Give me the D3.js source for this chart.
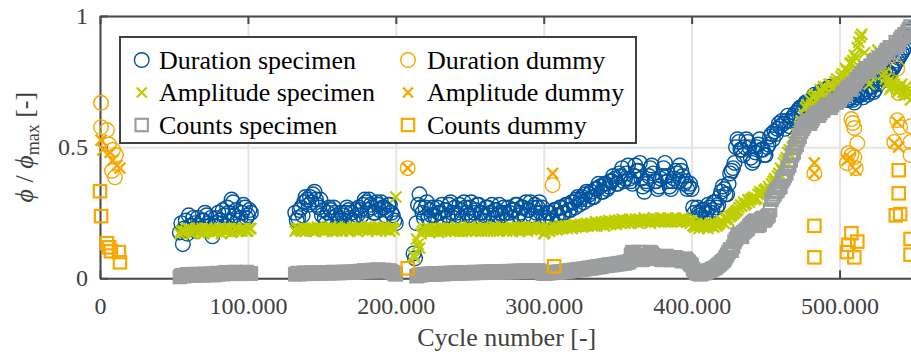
<!DOCTYPE html>
<html>
<head>
<meta charset="utf-8">
<title>phi / phi max</title>
<script src="https://cdn.jsdelivr.net/npm/d3@7"></script>
<style>
  body { margin: 0; background: #fff; }
  svg { display: block; font-family: "Liberation Serif", "Times New Roman", serif; }
  .grid line { stroke: #e4e4e4; stroke-width: 2px; }
  .grid path { display: none; }
  .axis path, .axis line { stroke: #4a4a4a; stroke-width: 2px; }
  .axis text { fill: #404040; font-size: 24px; font-family: "Liberation Serif", serif; }
</style>
</head>
<body>
<svg id="chart" width="911" height="356"></svg>
<script>
// cycle numbers in thousands (specimen measurements)
var cycles = [
  54,55,56,57,58,59,60,61,62,63,
  64,65,66,67,68,69,70,71,72,73,
  74,75,76,77,78,79,80,81,82,83,
  84,85,86,87,88,89,90,91,92,93,
  94,95,96,97,98,99,100,101,102,
  132,133,134,135,136,137,138,139,140,141,
  142,143,144,145,146,147,148,149,150,151,
  152,153,154,155,156,157,158,159,160,161,
  162,163,164,165,166,167,168,169,170,171,
  172,173,174,175,176,177,178,179,180,181,
  182,183,184,185,186,187,188,189,190,191,
  192,193,194,195,196,197,198,199,200,
  212,213,214,215,
  216,217,218,219,220,221,222,223,224,225,
  226,227,228,229,230,231,232,233,234,235,
  236,237,238,239,240,241,242,243,244,245,
  246,247,248,249,250,251,252,253,254,255,
  256,257,258,259,260,261,262,263,264,265,
  266,267,268,269,270,271,272,273,274,275,
  276,277,278,279,280,281,282,283,284,285,
  286,287,288,289,290,291,292,293,294,295,
  296,297,298,299,300,301,302,303,304,305,
  306,307,308,309,310,311,312,313,314,315,
  316,317,318,319,320,321,322,323,324,325,
  326,327,328,329,330,331,332,333,334,335,
  336,337,338,339,340,341,342,343,344,345,
  346,347,348,349,350,351,352,353,354,355,
  356,357,358,359,360,361,362,363,364,365,
  366,367,368,369,370,371,372,373,374,375,
  376,377,378,379,380,381,382,383,384,385,
  386,387,388,389,390,391,392,393,394,395,
  396,397,398,399,400,401,402,403,404,405,
  406,407,408,409,410,411,412,413,414,415,
  416,417,418,419,420,421,422,423,424,425,
  426,427,428,429,430,431,432,433,434,435,
  436,437,438,439,440,441,442,443,444,445,
  446,447,448,449,450,451,452,453,454,455,
  456,457,458,459,460,461,462,463,464,465,
  466,467,468,469,470,471,472,473,474,475,
  476,477,478,479,480,481,482,483,484,485,
  486,487,488,489,490,491,492,493,494,495,
  496,497,498,499,500,501,502,503,504,505,
  506,507,508,509,510,511,512,513,514,515,
  516,517,518,519,520,521,522,523,524,525,
  526,527,528,529,530,531,532,533,534,535,
  536,537,538,539,540,541,542,543,544,545,
  546,547,548
];

var duration = [
  0.175,0.21,0.13,0.19,0.22,0.17,0.24,0.2,0.2,0.23,
  0.21,0.18,0.23,0.2,0.19,0.22,0.22,0.25,0.24,0.21,
  0.2,0.23,0.16,0.2,0.23,0.21,0.25,0.22,0.21,0.26,
  0.24,0.2,0.27,0.25,0.22,0.3,0.29,0.24,0.26,0.22,
  0.2,0.23,0.25,0.28,0.27,0.23,0.24,0.26,0.25,
  0.25,0.22,0.23,0.26,0.27,0.24,0.29,0.31,0.3,0.28,
  0.31,0.29,0.32,0.33,0.3,0.28,0.27,0.3,0.24,0.26,
  0.23,0.21,0.25,0.27,0.26,0.23,0.27,0.25,0.24,0.21,
  0.22,0.25,0.24,0.22,0.25,0.27,0.26,0.23,0.25,0.22,
  0.23,0.26,0.24,0.27,0.26,0.24,0.28,0.3,0.29,0.26,
  0.3,0.28,0.27,0.25,0.25,0.29,0.28,0.26,0.29,0.27,
  0.27,0.24,0.26,0.28,0.28,0.25,0.24,0.22,0.21,
  0.095,0.076,0.21,0.28,
  0.32,0.27,0.25,0.23,0.27,0.29,0.23,0.26,0.24,0.27,
  0.24,0.22,0.27,0.25,0.25,0.28,0.23,0.26,0.26,0.24,
  0.28,0.29,0.25,0.23,0.27,0.25,0.24,0.28,0.26,0.23,
  0.29,0.27,0.25,0.24,0.27,0.29,0.23,0.25,0.26,0.28,
  0.28,0.25,0.25,0.22,0.24,0.27,0.27,0.24,0.25,0.28,
  0.23,0.26,0.26,0.24,0.28,0.25,0.24,0.27,0.25,0.22,
  0.27,0.25,0.23,0.26,0.26,0.28,0.28,0.24,0.25,0.27,
  0.27,0.24,0.29,0.26,0.26,0.29,0.24,0.27,0.28,0.25,
  0.27,0.29,0.25,0.27,0.23,0.22,0.23,0.25,0.25,0.22,
  0.22,0.26,0.26,0.24,0.24,0.27,0.27,0.25,0.25,0.28,
  0.28,0.26,0.26,0.29,0.29,0.27,0.3,0.31,0.28,0.3,
  0.31,0.29,0.32,0.33,0.3,0.32,0.33,0.31,0.31,0.34,
  0.34,0.36,0.35,0.33,0.33,0.36,0.36,0.34,0.35,0.37,
  0.37,0.39,0.38,0.36,0.36,0.4,0.39,0.42,0.37,0.38,
  0.4,0.43,0.38,0.37,0.36,0.39,0.43,0.41,0.41,0.44,
  0.38,0.35,0.33,0.37,0.36,0.39,0.42,0.43,0.4,0.37,
  0.37,0.34,0.35,0.38,0.39,0.42,0.44,0.39,0.37,0.35,
  0.34,0.37,0.38,0.41,0.4,0.37,0.43,0.41,0.39,0.36,
  0.37,0.34,0.35,0.36,0.34,0.27,0.25,0.23,0.27,0.25,
  0.24,0.26,0.26,0.23,0.25,0.28,0.27,0.25,0.26,0.29,
  0.29,0.27,0.28,0.31,0.33,0.35,0.34,0.32,0.32,0.36,
  0.4,0.41,0.42,0.44,0.5,0.53,0.52,0.49,0.49,0.47,
  0.5,0.53,0.52,0.5,0.46,0.44,0.45,0.48,0.5,0.51,
  0.53,0.49,0.49,0.47,0.47,0.5,0.51,0.54,0.55,0.53,
  0.56,0.55,0.57,0.59,0.58,0.6,0.59,0.57,0.6,0.62,
  0.58,0.6,0.61,0.62,0.63,0.61,0.64,0.65,0.65,0.64,
  0.66,0.67,0.67,0.65,0.66,0.68,0.68,0.7,0.69,0.68,
  0.7,0.71,0.69,0.7,0.7,0.72,0.71,0.73,0.72,0.7,
  0.72,0.73,0.73,0.74,0.71,0.7,0.69,0.71,0.7,0.68,
  0.68,0.7,0.69,0.68,0.67,0.69,0.7,0.72,0.71,0.7,
  0.69,0.71,0.72,0.7,0.71,0.73,0.73,0.71,0.72,0.74,
  0.74,0.76,0.75,0.77,0.77,0.79,0.76,0.78,0.78,0.8,
  0.8,0.81,0.82,0.83,0.84,0.85,0.86,0.87,0.88,0.9,
  0.92,0.94,0.95
];

var amplitude = [
  0.17,0.18,0.18,0.175,0.18,0.19,0.19,0.18,0.17,0.185,
  0.18,0.19,0.19,0.175,0.18,0.19,0.17,0.185,0.19,0.18,
  0.18,0.19,0.18,0.175,0.19,0.18,0.18,0.19,0.17,0.185,
  0.19,0.18,0.18,0.19,0.19,0.175,0.18,0.19,0.19,0.18,
  0.18,0.185,0.18,0.19,0.19,0.18,0.18,0.19,0.19,
  0.18,0.19,0.19,0.185,0.18,0.19,0.19,0.18,0.185,0.19,
  0.185,0.19,0.18,0.19,0.18,0.195,0.185,0.19,0.19,0.18,
  0.18,0.19,0.19,0.185,0.195,0.18,0.19,0.185,0.18,0.19,
  0.19,0.185,0.18,0.19,0.195,0.185,0.19,0.18,0.185,0.19,
  0.19,0.185,0.18,0.19,0.195,0.19,0.185,0.19,0.195,0.18,
  0.19,0.195,0.185,0.19,0.19,0.18,0.195,0.19,0.185,0.19,
  0.195,0.19,0.185,0.19,0.18,0.195,0.19,0.185,0.31,
  0.088,0.08,0.15,0.13,
  0.115,0.17,0.18,0.19,0.185,0.18,0.19,0.175,0.185,0.19,
  0.18,0.19,0.185,0.175,0.19,0.18,0.19,0.185,0.18,0.19,
  0.185,0.18,0.19,0.185,0.18,0.195,0.185,0.18,0.19,0.18,
  0.19,0.185,0.18,0.19,0.195,0.18,0.185,0.19,0.18,0.19,
  0.185,0.19,0.18,0.195,0.185,0.19,0.18,0.19,0.185,0.19,
  0.18,0.195,0.185,0.19,0.18,0.19,0.195,0.185,0.19,0.18,
  0.19,0.185,0.195,0.18,0.19,0.185,0.195,0.19,0.18,0.19,
  0.195,0.185,0.19,0.18,0.195,0.19,0.185,0.195,0.19,0.185,
  0.19,0.195,0.185,0.19,0.17,0.175,0.185,0.19,0.18,0.19,
  0.185,0.195,0.19,0.185,0.195,0.19,0.2,0.19,0.195,0.2,
  0.19,0.2,0.195,0.19,0.2,0.205,0.195,0.2,0.2,0.205,
  0.195,0.205,0.2,0.21,0.2,0.205,0.21,0.2,0.205,0.215,
  0.2,0.21,0.205,0.215,0.21,0.2,0.215,0.21,0.22,0.205,
  0.215,0.21,0.22,0.205,0.215,0.22,0.21,0.225,0.215,0.21,
  0.22,0.215,0.225,0.21,0.22,0.215,0.225,0.22,0.21,0.225,
  0.215,0.22,0.23,0.215,0.22,0.225,0.21,0.22,0.23,0.215,
  0.225,0.22,0.215,0.23,0.22,0.225,0.215,0.22,0.23,0.22,
  0.215,0.225,0.22,0.23,0.215,0.22,0.225,0.215,0.23,0.22,
  0.225,0.215,0.22,0.21,0.22,0.2,0.195,0.21,0.2,0.19,
  0.2,0.21,0.195,0.2,0.205,0.19,0.2,0.21,0.2,0.195,
  0.21,0.2,0.205,0.21,0.22,0.215,0.21,0.225,0.23,0.22,
  0.235,0.24,0.245,0.25,0.255,0.26,0.27,0.28,0.275,0.29,
  0.28,0.285,0.3,0.29,0.3,0.305,0.31,0.3,0.305,0.32,
  0.33,0.32,0.325,0.335,0.34,0.33,0.35,0.34,0.36,0.37,
  0.38,0.37,0.39,0.4,0.42,0.41,0.44,0.45,0.46,0.48,
  0.49,0.47,0.5,0.52,0.52,0.55,0.55,0.58,0.6,0.57,
  0.62,0.65,0.66,0.63,0.68,0.66,0.69,0.7,0.7,0.68,
  0.69,0.72,0.71,0.73,0.73,0.7,0.71,0.74,0.74,0.72,
  0.73,0.75,0.76,0.74,0.75,0.77,0.78,0.76,0.8,0.79,
  0.79,0.82,0.82,0.83,0.85,0.84,0.88,0.9,0.92,0.93,
  0.8,0.86,0.76,0.78,0.74,0.77,0.78,0.81,0.84,0.85,
  0.87,0.86,0.82,0.8,0.78,0.76,0.74,0.75,0.72,0.73,
  0.75,0.74,0.73,0.71,0.72,0.73,0.74,0.71,0.7,0.73,
  0.72,0.7,0.68
];

var counts = [
  0.005,0.01,0.012,0.008,0.01,0.015,0.014,0.01,0.012,0.016,
  0.015,0.011,0.013,0.016,0.014,0.012,0.012,0.017,0.015,0.013,
  0.016,0.018,0.014,0.012,0.017,0.02,0.015,0.019,0.018,0.016,
  0.02,0.023,0.017,0.021,0.022,0.019,0.02,0.024,0.018,0.021,
  0.02,0.017,0.019,0.022,0.021,0.024,0.02,0.018,0.018,
  0.015,0.018,0.02,0.016,0.019,0.018,0.021,0.017,0.02,0.019,
  0.018,0.022,0.02,0.019,0.021,0.018,0.022,0.02,0.019,0.021,
  0.02,0.023,0.021,0.019,0.022,0.02,0.024,0.021,0.022,0.02,
  0.023,0.021,0.024,0.022,0.021,0.025,0.023,0.022,0.024,0.022,
  0.025,0.023,0.026,0.024,0.028,0.025,0.027,0.03,0.026,0.028,
  0.03,0.027,0.032,0.029,0.028,0.031,0.033,0.03,0.028,0.03,
  0.032,0.029,0.027,0.03,0.028,0.025,0.022,0.018,0.015,
  null,null,0.008,0.01,
  0.012,0.014,0.013,0.016,0.015,0.014,0.017,0.015,0.016,0.018,
  0.015,0.017,0.016,0.019,0.017,0.018,0.016,0.02,0.018,0.017,
  0.02,0.019,0.018,0.021,0.02,0.018,0.022,0.02,0.021,0.019,
  0.022,0.021,0.02,0.023,0.021,0.022,0.02,0.024,0.022,0.021,
  0.023,0.022,0.024,0.021,0.023,0.025,0.022,0.024,0.023,0.026,
  0.023,0.025,0.024,0.022,0.026,0.024,0.025,0.023,0.027,0.025,
  0.024,0.027,0.026,0.024,0.028,0.025,0.027,0.026,0.029,0.027,
  0.026,0.029,0.028,0.027,0.03,0.028,0.027,0.03,0.029,0.028,
  0.03,0.028,0.025,0.02,0.018,0.02,0.019,0.022,0.02,0.023,
  0.022,0.021,0.024,0.022,0.025,0.023,0.026,0.025,0.027,0.026,
  0.029,0.027,0.03,0.029,0.032,0.03,0.033,0.031,0.035,0.034,
  0.033,0.036,0.035,0.038,0.037,0.04,0.038,0.042,0.04,0.043,
  0.045,0.042,0.046,0.044,0.048,0.047,0.05,0.048,0.052,0.05,
  0.053,0.051,0.055,0.053,0.056,0.054,0.058,0.056,0.06,0.057,
  0.062,0.06,0.065,0.09,0.1,0.095,0.085,0.078,0.075,0.1,
  0.072,0.07,0.076,0.082,0.085,0.09,0.1,0.095,0.088,0.08,
  0.075,0.078,0.082,0.072,0.07,0.075,0.08,0.085,0.078,0.072,
  0.07,0.074,0.078,0.08,0.076,0.072,0.07,0.068,0.065,0.072,
  0.075,0.068,0.062,0.055,0.05,0.035,0.028,0.022,0.018,0.02,
  0.015,0.018,0.022,0.02,0.025,0.028,0.03,0.032,0.035,0.038,
  0.04,0.045,0.05,0.055,0.06,0.065,0.07,0.08,0.09,0.1,
  0.11,0.105,0.12,0.14,0.15,0.165,0.17,0.16,0.158,0.175,
  0.18,0.185,0.19,0.2,0.205,0.21,0.215,0.22,0.21,0.2,
  0.205,0.225,0.23,0.22,0.225,0.235,0.24,0.26,0.3,0.31,
  0.32,0.33,0.335,0.345,0.35,0.37,0.38,0.39,0.4,0.42,
  0.43,0.45,0.47,0.48,0.5,0.51,0.53,0.54,0.56,0.57,
  0.58,0.59,0.6,0.59,0.59,0.6,0.61,0.62,0.63,0.62,
  0.62,0.63,0.64,0.64,0.65,0.66,0.65,0.66,0.65,0.66,
  0.67,0.68,0.67,0.68,0.68,0.69,0.7,0.71,0.7,0.72,
  0.73,0.72,0.72,0.74,0.74,0.75,0.76,0.77,0.77,0.78,
  0.78,0.79,0.8,0.8,0.79,0.81,0.81,0.82,0.83,0.83,
  0.82,0.84,0.84,0.85,0.85,0.86,0.87,0.87,0.88,0.88,
  0.86,0.88,0.9,0.89,0.89,0.91,0.92,0.92,0.93,0.93,
  0.94,0.95,0.96
];

// dummy sensor: [cycle in thousands, value]
var durationDummy = [
  [0.7,0.669],[0.7,0.576],[4.7,0.565],[6.1,0.51],[8.8,0.49],[10.8,0.47],[8.1,0.41],[10.1,0.385],
  [208,0.42],[306,0.355],
  [483,0.66],[483,0.4],
  [508,0.607],[509,0.592],[510,0.573],[512,0.515],[506,0.477],[508,0.469],[510,0.462],[505,0.439],[511,0.42],
  [539,0.8],[540,0.706],[539,0.603],[541,0.576],[537,0.52],
  [548,0.58],[548,0.52],[548,0.47]
];
var amplitudeDummy = [
  [0.7,0.527],[2,0.49],[6.8,0.48],[8.8,0.45],[13.5,0.42],[11.5,0.43],
  [208,0.42],[306,0.4],
  [483,0.44],[483,0.4],
  [507,0.458],[511,0.412],[505,0.45],
  [539,0.595],[537,0.515],[540,0.5]
];
var countsDummy = [
  [0,0.332],[0.7,0.237],[4.7,0.134],[6.1,0.118],[7.4,0.103],[12.8,0.1],[13.5,0.061],
  [208,0.038],[307,0.046],
  [483,0.2],[483,0.08],
  [508,0.172],[512,0.14],[506,0.128],[505,0.1],[510,0.08],
  [540,0.412],[540,0.324],[538,0.24],[541,0.245],[548,0.15],[548,0.09]
];

var xTicks = [0, 100, 200, 300, 400, 500];
var xTickLabels = ["0", "100.000", "200.000", "300.000", "400.000", "500.000"];
var yTicks = [0, 0.5, 1];
var yTickLabels = ["0", "0.5", "1"];
var legendNames = [
  ["Duration specimen", "Duration dummy"],
  ["Amplitude specimen", "Amplitude dummy"],
  ["Counts specimen", "Counts dummy"]
];

var blue = "#00549f", green = "#bdcd00", grey = "#9c9e9f", orange = "#f6a800";

var W = 911, H = 356;
var plotL = 100, plotT = 16, plotR = 913.5, plotB = 278.3;

var x = d3.scaleLinear().domain([0, 550]).range([plotL, plotR]);
var y = d3.scaleLinear().domain([0, 1]).range([plotB, plotT]);

var svg = d3.select("#chart");
svg.append("rect").attr("width", W).attr("height", H).attr("fill", "#fff");

// grid
svg.append("g").attr("class", "grid")
   .attr("transform", "translate(0," + plotB + ")")
   .call(d3.axisBottom(x).tickValues(xTicks).tickSize(-(plotB - plotT)).tickFormat(""));
svg.append("g").attr("class", "grid")
   .attr("transform", "translate(" + plotL + ",0)")
   .call(d3.axisLeft(y).tickValues(yTicks).tickSize(-(plotR - plotL)).tickFormat(""));

// axes box
svg.append("g").attr("class", "axis")
   .attr("transform", "translate(0," + plotB + ")")
   .call(d3.axisBottom(x).tickValues(xTicks).tickSize(-8).tickSizeOuter(0).tickPadding(19)
         .tickFormat(function (d, i) { return xTickLabels[i]; }));
svg.append("g").attr("class", "axis")
   .attr("transform", "translate(0," + plotT + ")")
   .call(d3.axisTop(x).tickValues(xTicks).tickSize(-8).tickSizeOuter(0).tickFormat(""));
svg.append("g").attr("class", "axis")
   .attr("transform", "translate(" + plotL + ",0)")
   .call(d3.axisLeft(y).tickValues(yTicks).tickSize(-8).tickSizeOuter(0).tickPadding(12)
         .tickFormat(function (d, i) { return yTickLabels[i]; }));

// axis labels
svg.append("text")
   .attr("x", (plotL + plotR) / 2).attr("y", 346)
   .attr("text-anchor", "middle")
   .attr("font-size", "26px").attr("fill", "#404040")
   .text("Cycle number [-]");

var yl = svg.append("text")
   .attr("transform", "translate(33," + ((plotT + plotB) / 2) + ") rotate(-90)")
   .attr("text-anchor", "middle")
   .attr("font-size", "26px").attr("fill", "#404040");
yl.append("tspan").attr("font-style", "italic").text("\u03d5");
yl.append("tspan").text(" / ");
yl.append("tspan").attr("font-style", "italic").text("\u03d5");
yl.append("tspan").attr("font-size", "18px").attr("dy", 6).text("max");
yl.append("tspan").attr("dy", -6).text(" [-]");

// markers
function circles(g, pts, color) {
  g.selectAll(null).data(pts).enter().append("circle")
    .attr("cx", function (d) { return x(d[0]); })
    .attr("cy", function (d) { return y(d[1]); })
    .attr("r", 7.3)
    .attr("fill", "none").attr("stroke", color).attr("stroke-width", 1.4);
}
function crosses(g, pts, color) {
  g.selectAll(null).data(pts).enter().append("path")
    .attr("d", "M-5.5,-5.5L5.5,5.5M-5.5,5.5L5.5,-5.5")
    .attr("transform", function (d) { return "translate(" + x(d[0]) + "," + y(d[1]) + ")"; })
    .attr("fill", "none").attr("stroke", color).attr("stroke-width", 2.3);
}
function squares(g, pts, color) {
  g.selectAll(null).data(pts).enter().append("rect")
    .attr("x", function (d) { return x(d[0]) - 6.2; })
    .attr("y", function (d) { return y(d[1]) - 6.2; })
    .attr("width", 12.4).attr("height", 12.4)
    .attr("fill", "none").attr("stroke", color).attr("stroke-width", 2.2);
}
function pairs(vals) {
  return cycles.map(function (c, i) { return [c, vals[i]]; })
               .filter(function (d) { return d[1] != null; });
}

var plot = svg.append("g");
circles(plot.append("g"), pairs(duration), blue);
circles(plot.append("g"), durationDummy, orange);
crosses(plot.append("g"), pairs(amplitude), green);
crosses(plot.append("g"), amplitudeDummy, orange);
squares(plot.append("g"), pairs(counts), grey);
squares(plot.append("g"), countsDummy, orange);

// legend
var lg = svg.append("g");
lg.append("rect").attr("x", 120).attr("y", 37).attr("width", 516).attr("height", 106)
  .attr("fill", "#fff").attr("stroke", "#404040").attr("stroke-width", 2);

var colX = [141.7, 408], textX = [159, 427], rowY = [60, 92.5, 125];
var colColor = [[blue, green, grey], [orange, orange, orange]];
for (var r = 0; r < 3; r++) {
  for (var c = 0; c < 2; c++) {
    var mx = colX[c], my = rowY[r], col = colColor[c][r];
    if (r == 0) {
      lg.append("circle").attr("cx", mx).attr("cy", my).attr("r", 7.3)
        .attr("fill", "none").attr("stroke", col).attr("stroke-width", 1.4);
    } else if (r == 1) {
      lg.append("path").attr("d", "M-5,-5L5,5M-5,5L5,-5")
        .attr("transform", "translate(" + mx + "," + my + ")")
        .attr("fill", "none").attr("stroke", col).attr("stroke-width", 2.3);
    } else {
      lg.append("rect").attr("x", mx - 6.2).attr("y", my - 6.2).attr("width", 12.4).attr("height", 12.4)
        .attr("fill", "none").attr("stroke", col).attr("stroke-width", 2.2);
    }
    lg.append("text").attr("x", textX[c]).attr("y", my + 8.5)
      .attr("font-size", "26px").attr("fill", "#000")
      .text(legendNames[r][c]);
  }
}
</script>
</body>
</html>
